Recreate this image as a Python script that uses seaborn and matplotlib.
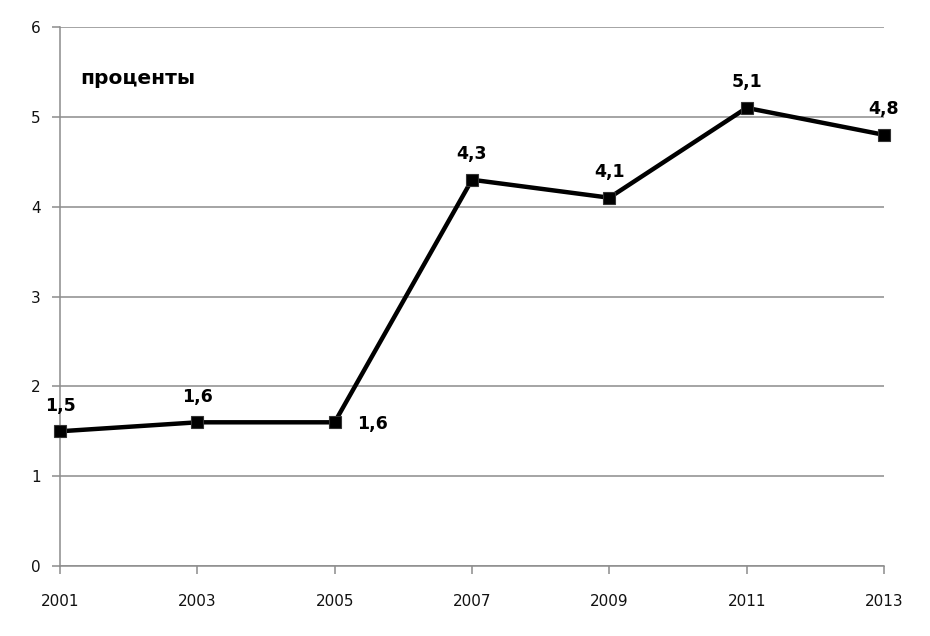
import matplotlib
matplotlib.use('Agg')
import matplotlib.pyplot as plt
import seaborn as sns
import pandas as pd

# data
years = [2001, 2003, 2005, 2007, 2009, 2011, 2013]
values = [1.5, 1.6, 1.6, 4.3, 4.1, 5.1, 4.8]
value_labels = ['1,5', '1,6', '1,6', '4,3', '4,1', '5,1', '4,8']
y_ticks = [0, 1, 2, 3, 4, 5, 6]
unit_label = 'проценты'

df = pd.DataFrame({'year': years, 'value': values})

sns.set_style('white')
plt.rcParams['font.family'] = ['DejaVu Sans']

fig = plt.figure(figsize=(9.3, 6.36), dpi=100)
ax = fig.add_axes([0.0645, 0.110, 0.886, 0.8475])

sns.lineplot(data=df, x='year', y='value', ax=ax, color='black', linewidth=3.2,
             marker='s', markersize=8, markeredgecolor='#333333', markeredgewidth=0.8,
             clip_on=False, zorder=5)

ax.set_xlim(years[0], years[-1])
ax.set_ylim(0, 6)
ax.set_xticks(years)
ax.set_xticklabels([str(y) for y in years])
ax.set_yticks(y_ticks)
ax.set_yticklabels([str(t) for t in y_ticks])
ax.set_xlabel(None)
ax.set_ylabel(None)

# horizontal grid only
ax.yaxis.grid(True, color='#8c8c8c', linewidth=1.1)
ax.xaxis.grid(False)
ax.set_axisbelow(True)

for side in ['top', 'right']:
    ax.spines[side].set_visible(False)
for side in ['left', 'bottom']:
    ax.spines[side].set_color('#8c8c8c')
    ax.spines[side].set_linewidth(1.1)

ax.tick_params(axis='both', which='both', direction='out', length=6, width=1.1,
               color='#8c8c8c', labelsize=11, labelcolor='#111111')
ax.tick_params(axis='x', pad=14, bottom=True)
ax.tick_params(axis='y', pad=8, left=True)

# data labels: offsets in points
offsets = [(0, 12), (0, 12), (27, -1), (0, 12), (0, 12), (0, 12), (0, 12)]
for x, y, lab, off in zip(years, values, value_labels, offsets):
    ax.annotate(lab, (x, y), xytext=off, textcoords='offset points',
                ha='center', va='bottom' if off[1] > 0 else 'center',
                fontsize=12.5, fontweight='bold', color='black',
                annotation_clip=False)

ax.text(0.025, 0.905, unit_label, transform=ax.transAxes, fontsize=14.5,
        fontweight='bold', color='black', va='center', ha='left')

fig.savefig('out.png', dpi=100, facecolor='white')
